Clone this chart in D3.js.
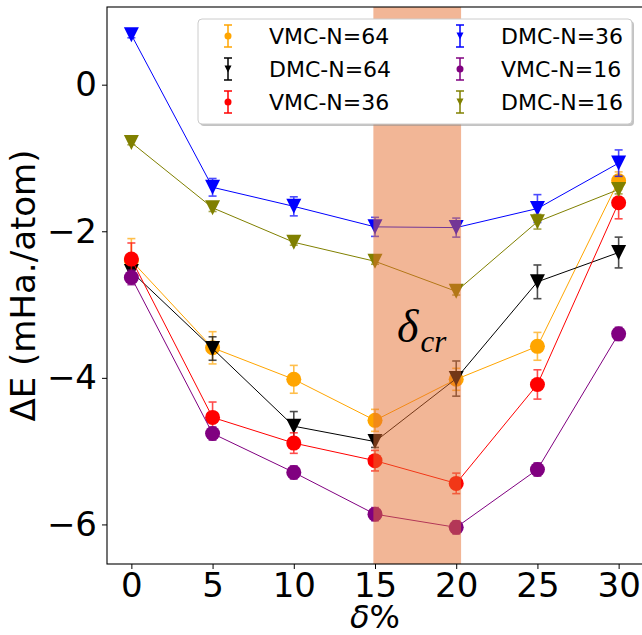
<!DOCTYPE html>
<html>
  <head>
    <meta charset="utf-8">
    <title>delta E vs delta</title>
    <script src="https://d3js.org/d3.v7.min.js"></script>
    <style>
      body { margin: 0; background: #fff; }
    </style>
  </head>
  <body>
  <script type="text/javascript">
    // data
    var deltas = [0, 5, 10, 15, 20, 25, 30];
    var vmc64 = [-2.40, -3.59, -4.02, -4.58, -4.02, -3.57, -1.31];
    var vmc64Err = [0.30, 0.22, 0.19, 0.15, 0.15, 0.19, 0.12];
    var dmc64 = [-2.55, -3.60, -4.66, -4.87, -4.01, -2.69, -2.29];
    var dmc64Err = [0.08, 0.16, 0.20, 0.08, 0.24, 0.23, 0.21];
    var vmc36 = [-2.38, -4.54, -4.89, -5.13, -5.44, -4.09, -1.61];
    var vmc36Err = [0.22, 0.21, 0.14, 0.14, 0.14, 0.20, 0.22];
    var dmc36 = [0.68, -1.40, -1.66, -1.94, -1.95, -1.69, -1.07];
    var dmc36Err = [0.04, 0.12, 0.13, 0.13, 0.13, 0.19, 0.18];
    var vmc16 = [-2.63, -4.76, -5.29, -5.86, -6.04, -5.25, -3.40];
    var vmc16Err = [0.10, 0.09, 0.09, 0.09, 0.09, 0.09, 0.09];
    var dmc16 = [-0.79, -1.68, -2.15, -2.41, -2.82, -1.87, -1.43];
    var dmc16Err = [0.03, 0.05, 0.04, 0.04, 0.05, 0.10, 0.06];

    var seriesNames = ['VMC-N=64', 'DMC-N=64', 'VMC-N=36', 'DMC-N=36', 'VMC-N=16', 'DMC-N=16'];
    var seriesColors = ['orange', 'black', 'red', 'blue', 'purple', 'olive'];
    var seriesMarkers = ['o', 'v', 'o', 'v', 'o', 'v'];
    var seriesValues = [vmc64, dmc64, vmc36, dmc36, vmc16, dmc16];
    var seriesErrors = [vmc64Err, dmc64Err, vmc36Err, dmc36Err, vmc16Err, dmc16Err];

    var xTicks = [0, 5, 10, 15, 20, 25, 30];
    var yTicks = [0, -2, -4, -6];
    var band = [14.9, 20.3];

    var W = 642, H = 635;
    var pL = 107, pR = 643, pT = 7, pB = 564;

    var svg = d3.select('body').append('svg')
      .attr('width', W).attr('height', H)
      .style('font-family', '"DejaVu Sans", sans-serif');

    var x = d3.scaleLinear().domain([-1.5, 31.5]).range([pL, pR]);
    var y = d3.scaleLinear().domain([-6.54, 1.06]).range([pB, pT]);

    function marker(sel, kind, r) {
      if (kind === 'o') {
        sel.append('circle').attr('r', r);
      } else {
        sel.append('path').attr('d', 'M' + (-r) + ',' + (-r) + 'L' + r + ',' + (-r) + 'L0,' + r + 'Z');
      }
    }

    var plot = svg.append('g');
    var line = d3.line().x(function(d){ return x(d[0]); }).y(function(d){ return y(d[1]); });

    seriesValues.forEach(function(vals, i) {
      var col = seriesColors[i];
      var pts = deltas.map(function(d, j){ return [d, vals[j], seriesErrors[i][j]]; });
      var g = plot.append('g');
      // error bars
      var eb = g.selectAll('.eb').data(pts).enter().append('g')
        .attr('stroke', col).attr('stroke-width', 1.6).attr('opacity', 0.7);
      eb.append('line')
        .attr('x1', function(d){ return x(d[0]); }).attr('x2', function(d){ return x(d[0]); })
        .attr('y1', function(d){ return y(d[1] - d[2]); }).attr('y2', function(d){ return y(d[1] + d[2]); });
      [-1, 1].forEach(function(s) {
        eb.append('line')
          .attr('x1', function(d){ return x(d[0]) - 4; }).attr('x2', function(d){ return x(d[0]) + 4; })
          .attr('y1', function(d){ return y(d[1] + s * d[2]); }).attr('y2', function(d){ return y(d[1] + s * d[2]); });
      });
      g.append('path').datum(pts).attr('d', line)
        .attr('fill', 'none').attr('stroke', col).attr('stroke-width', 1);
      g.selectAll('.m').data(pts).enter().append('g')
        .attr('transform', function(d){ return 'translate(' + x(d[0]) + ',' + y(d[1]) + ')'; })
        .attr('fill', col)
        .each(function(){ marker(d3.select(this), seriesMarkers[i], 7.5); });
    });

    // critical band
    svg.append('rect')
      .attr('x', x(band[0])).attr('width', x(band[1]) - x(band[0]))
      .attr('y', pT).attr('height', pB - pT)
      .attr('fill', 'rgb(229,109,45)').attr('opacity', 0.5);

    // delta_cr label
    var lab = svg.append('text').attr('x', 397).attr('y', 342)
      .style('font-family', '"Liberation Serif", serif').style('font-style', 'italic').attr('fill', '#000');
    lab.append('tspan').attr('font-size', 46).text('δ');
    lab.append('tspan').attr('font-size', 31).attr('dx', 2).attr('dy', 10).text('cr');

    // axes
    var fmt = function(d){ return d < 0 ? '\u2212' + Math.abs(d) : String(d); };
    var xAxis = svg.append('g').attr('transform', 'translate(0,' + pB + ')')
      .call(d3.axisBottom(x).tickValues(xTicks).tickSize(5).tickPadding(4).tickFormat(fmt));
    var yAxis = svg.append('g').attr('transform', 'translate(' + pL + ',0)')
      .call(d3.axisLeft(y).tickValues(yTicks).tickSize(5).tickPadding(5).tickFormat(fmt));
    [xAxis, yAxis].forEach(function(a) {
      a.select('.domain').remove();
      a.selectAll('text').attr('font-size', 34).attr('font-family', 'DejaVu Sans').attr('fill', '#000');
      a.selectAll('line').attr('stroke', '#000').attr('stroke-width', 1);
    });
    svg.append('rect').attr('x', pL).attr('y', pT)
      .attr('width', pR - pL).attr('height', pB - pT)
      .attr('fill', 'none').attr('stroke', '#000').attr('stroke-width', 1.1);

    // axis labels
    var xl = svg.append('text').attr('x', (pL + pR) / 2).attr('y', 628)
      .attr('text-anchor', 'middle').attr('font-size', 32);
    xl.append('tspan').style('font-style', 'italic').text('δ');
    xl.append('tspan').text('%');
    svg.append('text').attr('transform', 'translate(35,' + ((pT + pB) / 2) + ') rotate(-90)')
      .attr('text-anchor', 'middle').attr('font-size', 34).text('ΔE (mHa./atom)');

    // legend
    var leg = svg.append('g');
    leg.append('rect').attr('x', 200).attr('y', 21).attr('width', 434).attr('height', 105)
      .attr('rx', 4).attr('fill', '#888').attr('opacity', 0.5);
    leg.append('rect').attr('x', 198).attr('y', 19).attr('width', 434).attr('height', 105)
      .attr('rx', 4).attr('fill', '#fff').attr('stroke', '#ccc').attr('stroke-width', 1);
    seriesNames.forEach(function(name, i) {
      var col = i < 3 ? 0 : 1, row = i % 3;
      var hx = col === 0 ? 228 : 460, ty = 36 + row * 33;
      var h = leg.append('g').attr('transform', 'translate(' + hx + ',' + ty + ')');
      var c = seriesColors[i];
      h.append('line').attr('y1', -11).attr('y2', 11).attr('stroke', c).attr('stroke-width', 1.5);
      h.append('line').attr('x1', -4).attr('x2', 4).attr('y1', -11).attr('y2', -11).attr('stroke', c).attr('stroke-width', 1.5);
      h.append('line').attr('x1', -4).attr('x2', 4).attr('y1', 11).attr('y2', 11).attr('stroke', c).attr('stroke-width', 1.5);
      var mk = h.append('g').attr('fill', c);
      marker(mk, seriesMarkers[i], 3.5);
      leg.append('text').attr('x', hx + 41).attr('y', ty + 8)
        .attr('font-size', 22).attr('fill', '#000').text(name);
    });
  </script>
  </body>
</html>
